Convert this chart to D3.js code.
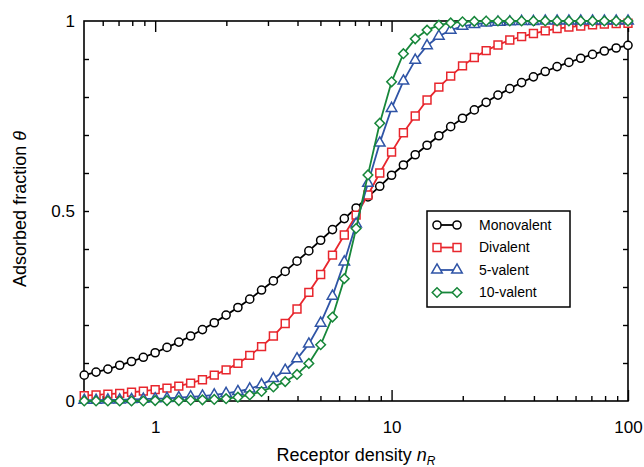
<!DOCTYPE html>
<html><head><meta charset="utf-8">
<script src="https://cdn.jsdelivr.net/npm/d3@7"></script>
<style>
body{margin:0;background:#fff;}
svg{display:block;}
text{font-family:"Liberation Sans",Arial,Helvetica,sans-serif;fill:#000;}
</style>
</head><body>
<svg id="c" width="644" height="467"></svg>
<script>
// ---- data ----
const receptorDensity = [0.5012,0.5623,0.6310,0.7079,0.7943,0.8913,1,1.1220,1.2589,1.4125,1.5849,1.7783,1.9953,2.2387,2.5119,2.8184,3.1623,3.5481,3.9811,4.4668,5.0119,5.6234,6.3096,7.0795,7.9433,8.9125,10,11.220,12.589,14.125,15.849,17.783,19.953,22.387,25.119,28.184,31.623,35.481,39.811,44.668,50.119,56.234,63.096,70.795,79.433,89.125,100];
const monovalent = [0.068,0.076,0.084,0.094,0.104,0.115,0.127,0.141,0.155,0.171,0.188,0.206,0.226,0.246,0.268,0.292,0.316,0.341,0.368,0.395,0.423,0.451,0.480,0.508,0.537,0.565,0.594,0.621,0.648,0.673,0.698,0.722,0.744,0.766,0.786,0.805,0.822,0.838,0.853,0.867,0.880,0.891,0.902,0.912,0.921,0.929,0.936];
const divalent = [0.014,0.016,0.018,0.020,0.023,0.026,0.030,0.034,0.039,0.047,0.056,0.068,0.082,0.099,0.120,0.143,0.171,0.204,0.242,0.286,0.333,0.384,0.437,0.489,0.542,0.600,0.655,0.706,0.750,0.792,0.826,0.855,0.882,0.904,0.922,0.937,0.950,0.959,0.967,0.974,0.980,0.984,0.987,0.990,0.992,0.993,0.994];
const pentavalent = [0.002,0.002,0.003,0.003,0.004,0.005,0.006,0.007,0.009,0.011,0.013,0.016,0.020,0.025,0.032,0.043,0.059,0.081,0.111,0.150,0.205,0.276,0.366,0.466,0.573,0.679,0.770,0.842,0.897,0.935,0.960,0.976,0.986,0.991,0.995,0.997,0.998,0.999,0.999,1,1,1,1,1,1,1,1];
const decavalent = [0,0,0,0,0,0,0.001,0.001,0.001,0.002,0.003,0.004,0.006,0.010,0.016,0.025,0.037,0.051,0.070,0.099,0.148,0.221,0.322,0.454,0.595,0.731,0.840,0.914,0.953,0.976,0.989,0.995,0.998,0.999,1,1,1,1,1,1,1,1,1,1,1,1,1];
const seriesNames = ["Monovalent","Divalent","5-valent","10-valent"];
const xTickValues = [1,10,100];
const xTickLabels = ["1","10","100"];
const yTickValues = [0,0.5,1];
const yTickLabels = ["0","0.5","1"];

// ---- layout ----
const svg = d3.select("#c");
const L=84,R=628,T=21,B=401;
const x = d3.scaleLog().domain([0.5,100]).range([L,R]);
const y = d3.scaleLinear().domain([0,1]).range([B,T]);

svg.append("rect").attr("width",644).attr("height",467).attr("fill","#fff");

const colors = ["#000000","#e8262d","#2f54a6","#17873a"];
const symbols = [d3.symbolCircle, d3.symbolSquare, d3.symbolTriangle, d3.symbolSquare];
const symSizes = [52, 62, 48, 46];
const rot = [0,0,0,45];
const allSeries = [monovalent, divalent, pentavalent, decavalent];

// minor + major ticks
const minorX = x.ticks().filter(v => !xTickValues.includes(v) && v>0.5);
const minorY = d3.range(1,10).map(i=>i/10).filter(v=>v!==0.5);

function styleAxis(g){ g.select(".domain").remove(); g.selectAll("line").attr("stroke","#000").attr("stroke-width",1.4); }

svg.append("g").attr("transform",`translate(0,${B})`)
  .call(d3.axisBottom(x).tickValues(minorX).tickSize(-5).tickFormat("")).call(styleAxis);
svg.append("g").attr("transform",`translate(0,${T})`)
  .call(d3.axisTop(x).tickValues(minorX).tickSize(-5).tickFormat("")).call(styleAxis);
svg.append("g").attr("transform",`translate(0,${B})`)
  .call(d3.axisBottom(x).tickValues(xTickValues).tickSize(-11).tickPadding(20)
    .tickFormat((d,i)=>xTickLabels[i])).call(styleAxis)
  .selectAll("text").attr("font-size",17).attr("font-family","Liberation Sans, Arial, sans-serif");
svg.append("g").attr("transform",`translate(0,${T})`)
  .call(d3.axisTop(x).tickValues(xTickValues).tickSize(-11).tickFormat("")).call(styleAxis);

svg.append("g").attr("transform",`translate(${L},0)`)
  .call(d3.axisLeft(y).tickValues(minorY.concat([0.5])).tickSize(-5).tickFormat("")).call(styleAxis);
svg.append("g").attr("transform",`translate(${R},0)`)
  .call(d3.axisRight(y).tickValues(minorY.concat([0.5])).tickSize(-5).tickFormat("")).call(styleAxis);
svg.append("g").attr("transform",`translate(${L},0)`)
  .call(d3.axisLeft(y).tickValues(yTickValues).tickSize(0).tickPadding(9)
    .tickFormat((d,i)=>yTickLabels[i])).call(styleAxis)
  .selectAll("text").attr("font-size",17).attr("font-family","Liberation Sans, Arial, sans-serif");

// frame
svg.append("rect").attr("x",L).attr("y",T).attr("width",R-L).attr("height",B-T)
  .attr("fill","none").attr("stroke","#000").attr("stroke-width",1.6);

// series
const line = d3.line().x(d=>x(d[0])).y(d=>y(d[1]));
allSeries.forEach((vals,si)=>{
  const pts = receptorDensity.map((n,i)=>[n,vals[i]]);
  const g = svg.append("g");
  g.append("path").attr("d",line(pts)).attr("fill","none")
    .attr("stroke",colors[si]).attr("stroke-width",1.8);
  g.selectAll("path.m").data(pts).join("path").attr("class","m")
    .attr("d",d3.symbol().type(symbols[si]).size(symSizes[si]))
    .attr("transform",d=>`translate(${x(d[0])},${y(d[1])}) rotate(${rot[si]})`)
    .attr("fill","#fff").attr("stroke",colors[si]).attr("stroke-width",1.5);
});

// legend
const lg = svg.append("g");
lg.append("rect").attr("x",427).attr("y",211).attr("width",143).attr("height",96)
  .attr("fill","#fff").attr("stroke","#000").attr("stroke-width",1.5);
seriesNames.forEach((name,i)=>{
  const yy = 225 + i*22.5;
  lg.append("line").attr("x1",437).attr("x2",457).attr("y1",yy).attr("y2",yy)
    .attr("stroke",colors[i]).attr("stroke-width",1.8);
  [437,457].forEach(xx=>{
    lg.append("path").attr("d",d3.symbol().type(symbols[i]).size(symSizes[i]))
      .attr("transform",`translate(${xx},${yy}) rotate(${rot[i]})`)
      .attr("fill","#fff").attr("stroke",colors[i]).attr("stroke-width",1.5);
  });
  lg.append("text").attr("x",479).attr("y",yy).attr("dy","0.35em")
    .attr("font-size",14).text(name);
});

// axis titles
const xt = svg.append("text").attr("x",356).attr("y",461).attr("text-anchor","middle").attr("font-size",18);
xt.append("tspan").text("Receptor density ");
xt.append("tspan").attr("font-style","italic").text("n");
xt.append("tspan").attr("font-style","italic").attr("font-size",12).attr("dy",4).text("R");

const yt = svg.append("text").attr("transform","translate(26,209) rotate(-90)")
  .attr("text-anchor","middle").attr("font-size",18);
yt.append("tspan").text("Adsorbed fraction ");
yt.append("tspan").attr("font-style","italic").text("θ");
</script>
</body></html>
